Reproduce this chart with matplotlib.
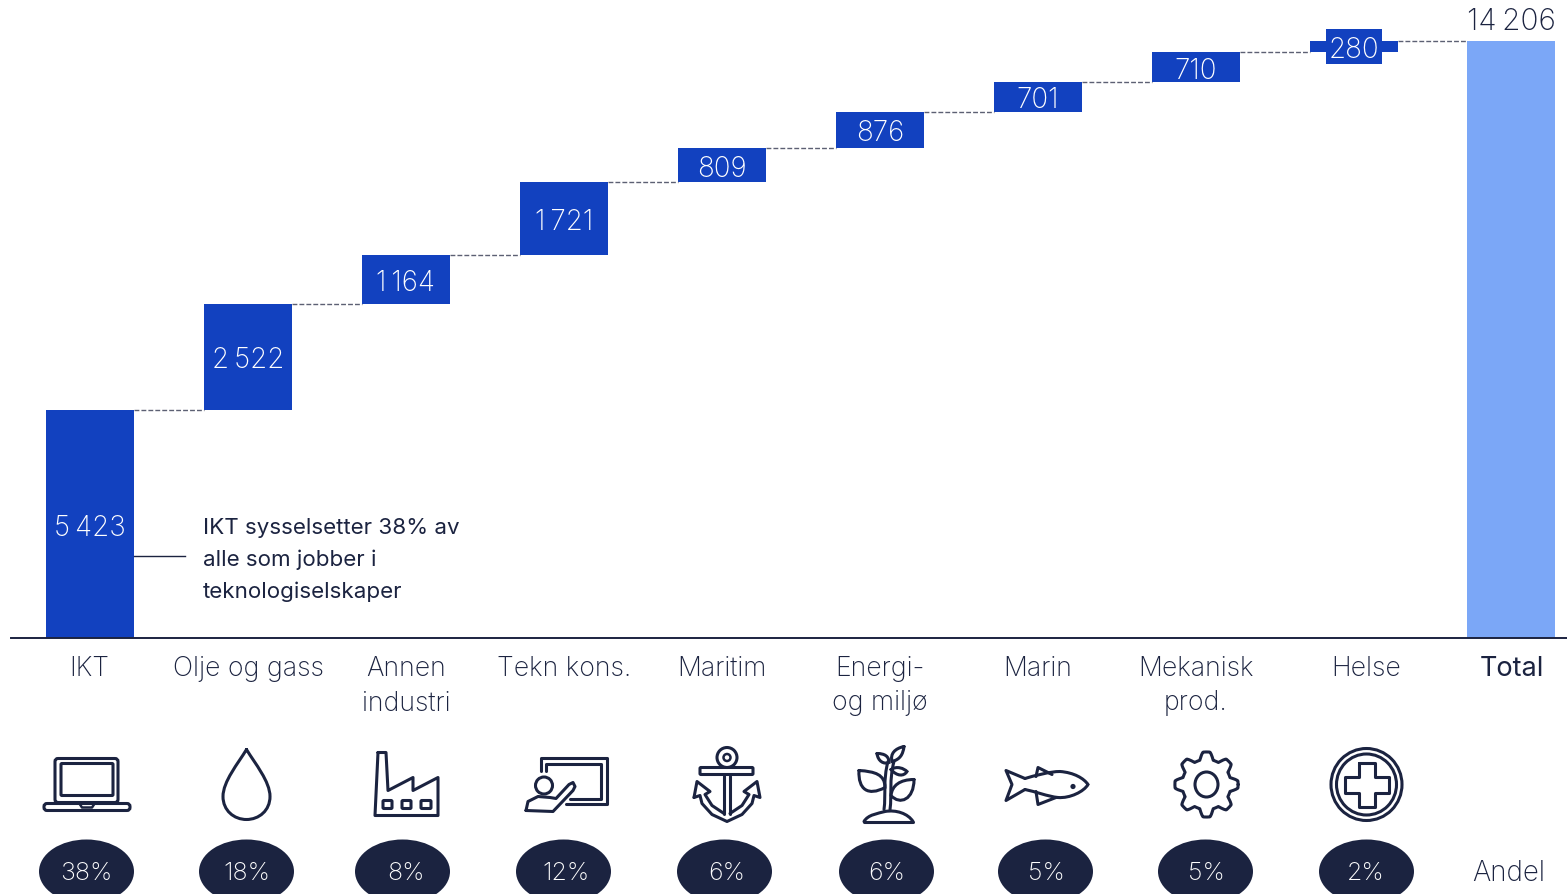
import matplotlib
matplotlib.use('Agg')
import matplotlib.pyplot as plt
from matplotlib.patches import Ellipse, FancyBboxPatch, Circle, PathPatch, Rectangle
from matplotlib.path import Path
import numpy as np

# Data
categories = ['IKT', 'Olje og gass', 'Annen\nindustri', 'Tekn kons.', 'Maritim',
              'Energi-\nog miljø', 'Marin', 'Mekanisk\nprod.', 'Helse']
values = [5423, 2522, 1164, 1721, 809, 876, 701, 710, 280]
value_labels = ['5\u2009423', '2\u2009522', '1\u2009164', '1\u2009721', '809', '876', '701', '710', '280']
total = 14206
total_label = '14\u2009206'
shares = ['38%', '18%', '8%', '12%', '6%', '6%', '5%', '5%', '2%']

NAVY = '#1b2340'
BLUE = '#1241bf'
LIGHT = '#7ba7f7'
W, H = 1567, 895

plt.rcParams['font.family'] = ['Inter', 'Roboto', 'DejaVu Sans']
FS = 19.2
FS_VAL = 20
STEP = 158
TOTAL_X = 8 + 157 / STEP

fig = plt.figure(figsize=(W / 100, H / 100), dpi=100)

# chart axes, baseline at y=638px, 14206 at y=41px
ax = fig.add_axes([10.5 / W, (H - 638.5) / H, (W - 10.5) / W, 638 / H])
ax.set_xlim((10.5 - 90) / STEP, (W - 90) / STEP)
ax.set_ylim(0, 638 / (597 / total))
ax.axis('off')

bottoms = np.concatenate([[0], np.cumsum(values)[:-1]])
tops = bottoms + np.array(values)
xs = np.arange(len(values))
bw = 88 / STEP

ax.bar(xs, values, bottom=bottoms, width=bw, color=BLUE, linewidth=0)
ax.bar(TOTAL_X, total, width=bw, color=LIGHT, linewidth=0)

# connectors
next_x = list(xs[1:]) + [TOTAL_X]
for i, top in enumerate(tops):
    ax.plot([i + bw / 2, next_x[i] - bw / 2], [top, top], color='#5c6073', lw=1,
            dashes=(3.5, 1.5), solid_capstyle='butt')

# value labels
for i, (b, v, lab) in enumerate(zip(bottoms, values, value_labels)):
    y = b + v / 2
    if i == 0:
        y = 113 / (597 / total)
    if v == 280:
        ax.add_patch(Rectangle((i - 28 / STEP, y - 17.5 / (597 / total)), 56 / STEP,
                               35 / (597 / total), color=BLUE, lw=0, zorder=2))
    ax.text(i, y, lab, color='white', fontsize=FS_VAL, fontweight='light', ha='center',
            va='center_baseline', zorder=3)
ax.text(TOTAL_X, total + 5 * total / 597, total_label, color=NAVY, fontsize=21.5,
        fontweight='light', ha='center', va='bottom')

# overlay in pixel coordinates for labels and icons
ov = fig.add_axes([0, -0.5 / H, 1, 1])
ov.set_xlim(0, W)
ov.set_ylim(H, 0)
ov.axis('off')
ov.patch.set_alpha(0)

ov.plot([11, W], [638, 638], color=NAVY, lw=1.4)
ov.plot([134, 185], [556.5, 556.5], color=NAVY, lw=1)

ann = ['IKT sysselsetter 38% av', 'alle som jobber i', 'teknologiselskaper']
for k, t in enumerate(ann):
    ov.text(203, 527 + 32 * k, t, color=NAVY, fontsize=16.1, va='center', ha='left')

label_x = [89, 248, 406, 564, 722, 880, 1038, 1196, 1366]
for x, c in zip(label_x, categories):
    for k, line_txt in enumerate(c.split('\n')):
        ov.text(x, 668 + 35 * k, line_txt, color=NAVY, fontsize=FS, fontweight='light',
                ha='center', va='center')
ov.text(1512, 668, 'Total', color=NAVY, fontsize=19.5, ha='center', va='center')

pill_x = [86.5, 246.5, 402.5, 563.5, 724.5, 886.5, 1045.5, 1205.5, 1366.5]
share_x = [86.5, 246.5, 406, 566, 727, 887, 1046, 1206, 1366]
for x, tx, s in zip(pill_x, share_x, shares):
    ov.add_patch(Ellipse((x, 872), 95, 64, color=NAVY, lw=0))
    ov.text(tx, 873.5, s, color='white', fontsize=18, fontweight='light',
            ha='center', va='center')
ov.text(1509, 873.5, 'Andel', color=NAVY, fontsize=20, fontweight='light', ha='center', va='center')


# icons
LW = 2.2


def line(pts, closed=False, lw=LW):
    pts = np.array(pts, float)
    if closed:
        pts = np.vstack([pts, pts[0]])
    ov.plot(pts[:, 0], pts[:, 1], color=NAVY, lw=lw, solid_joinstyle='round',
            solid_capstyle='round')


def curve(verts, lw=LW):
    # verts: start then triples of cubic control points
    codes = [Path.MOVETO] + [Path.CURVE4] * (len(verts) - 1)
    ov.add_patch(PathPatch(Path(verts, codes), fc='none', ec=NAVY, lw=lw, capstyle='round'))


def rrect(x0, y0, x1, y1, r=3, lw=LW):
    ov.add_patch(FancyBboxPatch((x0 + r, y0 + r), x1 - x0 - 2 * r, y1 - y0 - 2 * r,
                                boxstyle='round,pad=%g,rounding_size=%g' % (r, r),
                                fc='none', ec=NAVY, lw=lw))


# laptop
rrect(55, 759, 118, 803, 3)
rrect(61, 764, 113, 796, 1)
rrect(44, 804, 130, 811, 3)
line([(80, 805), (82, 808), (92, 808), (94, 805)], lw=1.8)

# drop
curve([(246.5, 750), (238, 764), (223, 782), (223, 797),
       (223, 811), (234, 820), (246.5, 820),
       (259, 820), (270, 811), (270, 797),
       (270, 782), (255, 764), (246.5, 750)])

# factory
line([(378, 753), (386, 753), (388, 791), (413, 778), (413, 791), (438, 778),
      (438, 816), (375, 816)], closed=True)
for x0, x1 in [(383, 392), (402, 411), (421, 431)]:
    rrect(x0, 801, x1, 809, 1)

# teaching
line([(541, 771), (541, 758), (607, 758), (607, 804), (566, 804)])
line([(546, 771), (546, 764), (601, 764), (601, 799), (570, 799)])
ov.add_patch(Circle((544, 786), 8.5, fc='none', ec=NAVY, lw=LW))
line([(526, 811), (528, 802), (538, 797), (550, 798), (556, 799), (569, 785),
      (573, 783), (575, 787), (573, 791), (553, 812), (526, 811)])

# anchor
ov.add_patch(Circle((727, 758), 10, fc='none', ec=NAVY, lw=LW))
ov.add_patch(Circle((727, 758), 3.5, fc='none', ec=NAVY, lw=1.8))
rrect(700, 768, 753, 775, 1)
line([(724, 776), (724, 814)])
line([(730, 776), (730, 814)])
line([(694, 798), (697, 782), (710, 792), (705, 795), (712, 806), (724, 814)])
line([(694, 798), (700, 796), (702, 804), (712, 815), (727, 822), (742, 815),
      (752, 804), (754, 796), (760, 798), (757, 782), (744, 792), (749, 795),
      (742, 806), (730, 814)])

# plant
curve([(884, 810), (886, 795), (883, 780), (888, 762)])
curve([(890, 810), (892, 795), (889, 780), (894, 762)])
curve([(859, 771), (858, 790), (868, 797), (885, 788),
       (885, 775), (875, 772), (859, 771)])
curve([(914, 780), (900, 780), (892, 786), (891, 796),
       (900, 806), (914, 800), (914, 780)])
curve([(904, 747), (895, 749), (890, 754), (892, 762),
       (900, 760), (903, 755), (904, 747)])
curve([(877, 754), (878, 762), (884, 765), (889, 763),
       (889, 757), (885, 754), (877, 754)])
curve([(891, 770), (897, 766), (904, 769), (907, 772),
       (904, 777), (897, 777), (891, 770)])
curve([(864, 822), (868, 815), (878, 814), (885, 812),
       (896, 810), (908, 814), (913, 822)])
line([(864, 822), (913, 822)])

# fish
curve([(1025, 779), (1035, 776), (1050, 772), (1060, 772),
       (1074, 773), (1084, 779), (1088, 785),
       (1084, 792), (1070, 799), (1058, 798)])
curve([(1058, 798), (1048, 797), (1035, 792), (1025, 790)])
line([(1025, 779), (1006, 771), (1012, 785), (1006, 801), (1025, 790)])
line([(1036, 777), (1038, 768), (1052, 775)])
line([(1036, 792), (1038, 805), (1056, 798)])
ov.add_patch(Circle((1073, 787), 2.6, color=NAVY, lw=0))

# gear
ang = np.deg2rad(np.arange(0, 360, 1))
teeth = np.clip(1.6 * np.cos(8 * (ang + np.pi / 2)), -1, 1)
rad = 28 + 3.6 * teeth
line(np.c_[1206.5 + rad * np.cos(ang), 785 + rad * 1.03 * np.sin(ang)], closed=True)
ov.add_patch(Ellipse((1206.5, 785), 23, 25, fc='none', ec=NAVY, lw=LW))

# medical
ov.add_patch(Ellipse((1366.5, 785), 71, 72, fc='none', ec=NAVY, lw=LW))
ov.add_patch(Ellipse((1366.5, 785), 60, 61, fc='none', ec=NAVY, lw=LW))
a, b = 8, 22
line([(1366.5 - a, 785 - b), (1366.5 + a, 785 - b), (1366.5 + a, 785 - a),
      (1366.5 + b, 785 - a), (1366.5 + b, 785 + a), (1366.5 + a, 785 + a),
      (1366.5 + a, 785 + b), (1366.5 - a, 785 + b), (1366.5 - a, 785 + a),
      (1366.5 - b, 785 + a), (1366.5 - b, 785 - a), (1366.5 - a, 785 - a)], closed=True)

fig.savefig('out.png', dpi=100)
